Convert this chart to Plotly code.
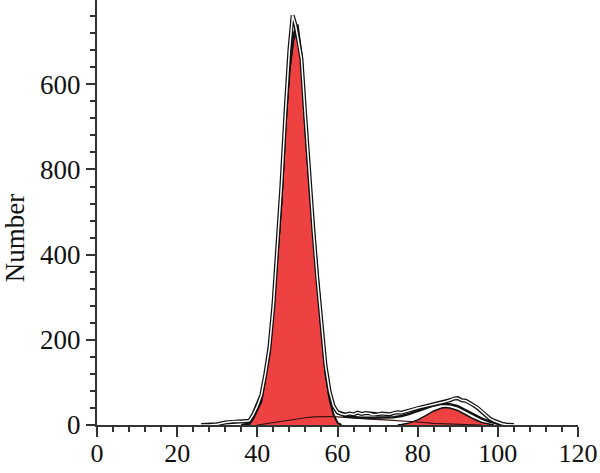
import plotly.graph_objects as go

# ---- data ----
g1_x = [36, 37, 38, 39, 40, 41, 42, 43, 44, 45, 46, 47, 48, 49, 50, 51, 52, 53, 54, 55, 56, 57, 58, 59, 60, 61]
g1_y = [0, 0, 2, 15, 35, 55, 110, 165, 270, 400, 520, 700, 830, 905, 925, 850, 690, 560, 440, 330, 220, 120, 60, 25, 5, 0]

g2_x = [75, 76, 78, 80, 82, 84, 86, 87, 88, 90, 92, 94, 96, 98, 99]
g2_y = [0, 1, 5, 12, 22, 33, 40, 41, 40, 34, 24, 14, 6, 1, 0]

s_x = [40, 42, 44, 46, 48, 50, 52, 54, 56, 58, 60, 64, 68, 72, 76, 80, 84, 88, 92, 96]
s_y = [0, 3, 6, 9, 12, 15, 17, 19, 20, 20, 19, 16, 14, 12, 10, 7, 4, 2, 1, 0]

fit_x = [36, 38, 39, 40, 41, 42, 43, 44, 45, 46, 47, 48, 49, 50, 51, 52, 53, 54, 55, 56, 57, 58, 59, 60,
         62, 64, 66, 68, 70, 72, 74, 76, 78, 80, 82, 84, 86, 88, 90, 92, 94, 96, 98, 100, 102]
fit_y = [0, 3, 18, 40, 62, 115, 172, 278, 408, 528, 708, 838, 915, 940, 868, 708, 578, 459, 350, 240, 140, 80, 45, 28,
         20, 18, 17, 17, 17, 17, 18, 21, 26, 33, 40, 46, 50, 49, 44, 34, 24, 15, 8, 3, 0]

raw_x = [26, 28, 30, 32, 34, 36, 38, 39, 40, 41, 42, 43, 44, 45, 46, 47, 48, 48.8, 49.5, 50, 51, 52, 53, 54, 55, 56, 57,
         58, 59, 60, 61, 62, 63, 64, 65, 66, 67, 68, 69, 70, 71, 72, 73, 74, 75, 76, 77, 78, 79, 80, 81, 82, 83,
         84, 85, 86, 87, 88, 89, 90, 91, 92, 93, 94, 95, 96, 97, 98, 99, 100, 101, 102, 104]
raw_y = [0, 0, 2, 6, 8, 8, 10, 25, 45, 70, 120, 180, 280, 410, 560, 730, 880, 962, 940, 915, 860, 720, 580, 455, 340, 230, 140,
         80, 45, 30, 26, 24, 27, 25, 29, 26, 28, 27, 24, 25, 27, 26, 25, 28, 30, 29, 32, 35, 37, 40, 42, 44, 46,
         48, 50, 53, 55, 58, 62, 63, 58, 57, 52, 46, 40, 31, 22, 15, 10, 6, 3, 1, 0]

x_ticks = [0, 20, 40, 60, 80, 100, 120]
y_ticks = [0, 200, 400, 600, 800]
y_tick_labels = ["0", "200", "400", "800", "600"]

RED = "rgb(238,66,66)"
INK = "#111111"
AX = "#333333"
FONT = "Liberation Serif"

fig = go.Figure()
fig.add_trace(go.Scatter(x=g1_x, y=g1_y, mode="lines", fill="tozeroy", fillcolor=RED,
                         line=dict(color=INK, width=2), hoverinfo="skip"))
fig.add_trace(go.Scatter(x=g2_x, y=g2_y, mode="lines", fill="tozeroy", fillcolor=RED,
                         line=dict(color=INK, width=1.5), hoverinfo="skip"))
fig.add_trace(go.Scatter(x=s_x, y=s_y, mode="lines", line=dict(color="#3a1010", width=1.2), hoverinfo="skip"))
fig.add_trace(go.Scatter(x=fit_x, y=fit_y, mode="lines", line=dict(color=INK, width=2.5), hoverinfo="skip"))
fig.add_trace(go.Scatter(x=raw_x, y=raw_y, mode="lines", line=dict(color=INK, width=4), hoverinfo="skip"))
fig.add_trace(go.Scatter(x=raw_x, y=raw_y, mode="lines", line=dict(color="white", width=1.5), hoverinfo="skip"))

fig.update_layout(
    width=600, height=473,
    margin=dict(l=97, r=22, t=0, b=48),
    paper_bgcolor="white", plot_bgcolor="white",
    showlegend=False,
    font=dict(family=FONT, size=27, color="#111111"),
    xaxis=dict(range=[0, 120], tickvals=x_ticks, ticks="outside", ticklen=10, tickwidth=2, tickcolor=AX,
               showline=True, linecolor=AX, linewidth=2, showgrid=False, zeroline=False, automargin=False,
               ticklabelstandoff=-6, tickfont=dict(size=26),
               minor=dict(dtick=4, ticks="outside", ticklen=5, tickwidth=1.5, tickcolor=AX)),
    yaxis=dict(range=[0, 998], tickvals=y_ticks, ticktext=y_tick_labels, ticks="outside", ticklen=9, tickwidth=2,
               tickcolor=AX, showline=True, linecolor=AX, linewidth=2, showgrid=False, zeroline=False,
               automargin=False,
               minor=dict(dtick=40, ticks="outside", ticklen=5, tickwidth=1.5, tickcolor=AX)),
    annotations=[dict(text="Number", x=-0.17, y=0.44, xref="paper", yref="paper", textangle=-90,
                      xanchor="center", yanchor="middle",
                      showarrow=False, font=dict(family=FONT, size=27, color="#111111"))],
)

fig.write_html("out.html", config={"displayModeBar": False},
               post_script="document.body.style.margin='0';")
